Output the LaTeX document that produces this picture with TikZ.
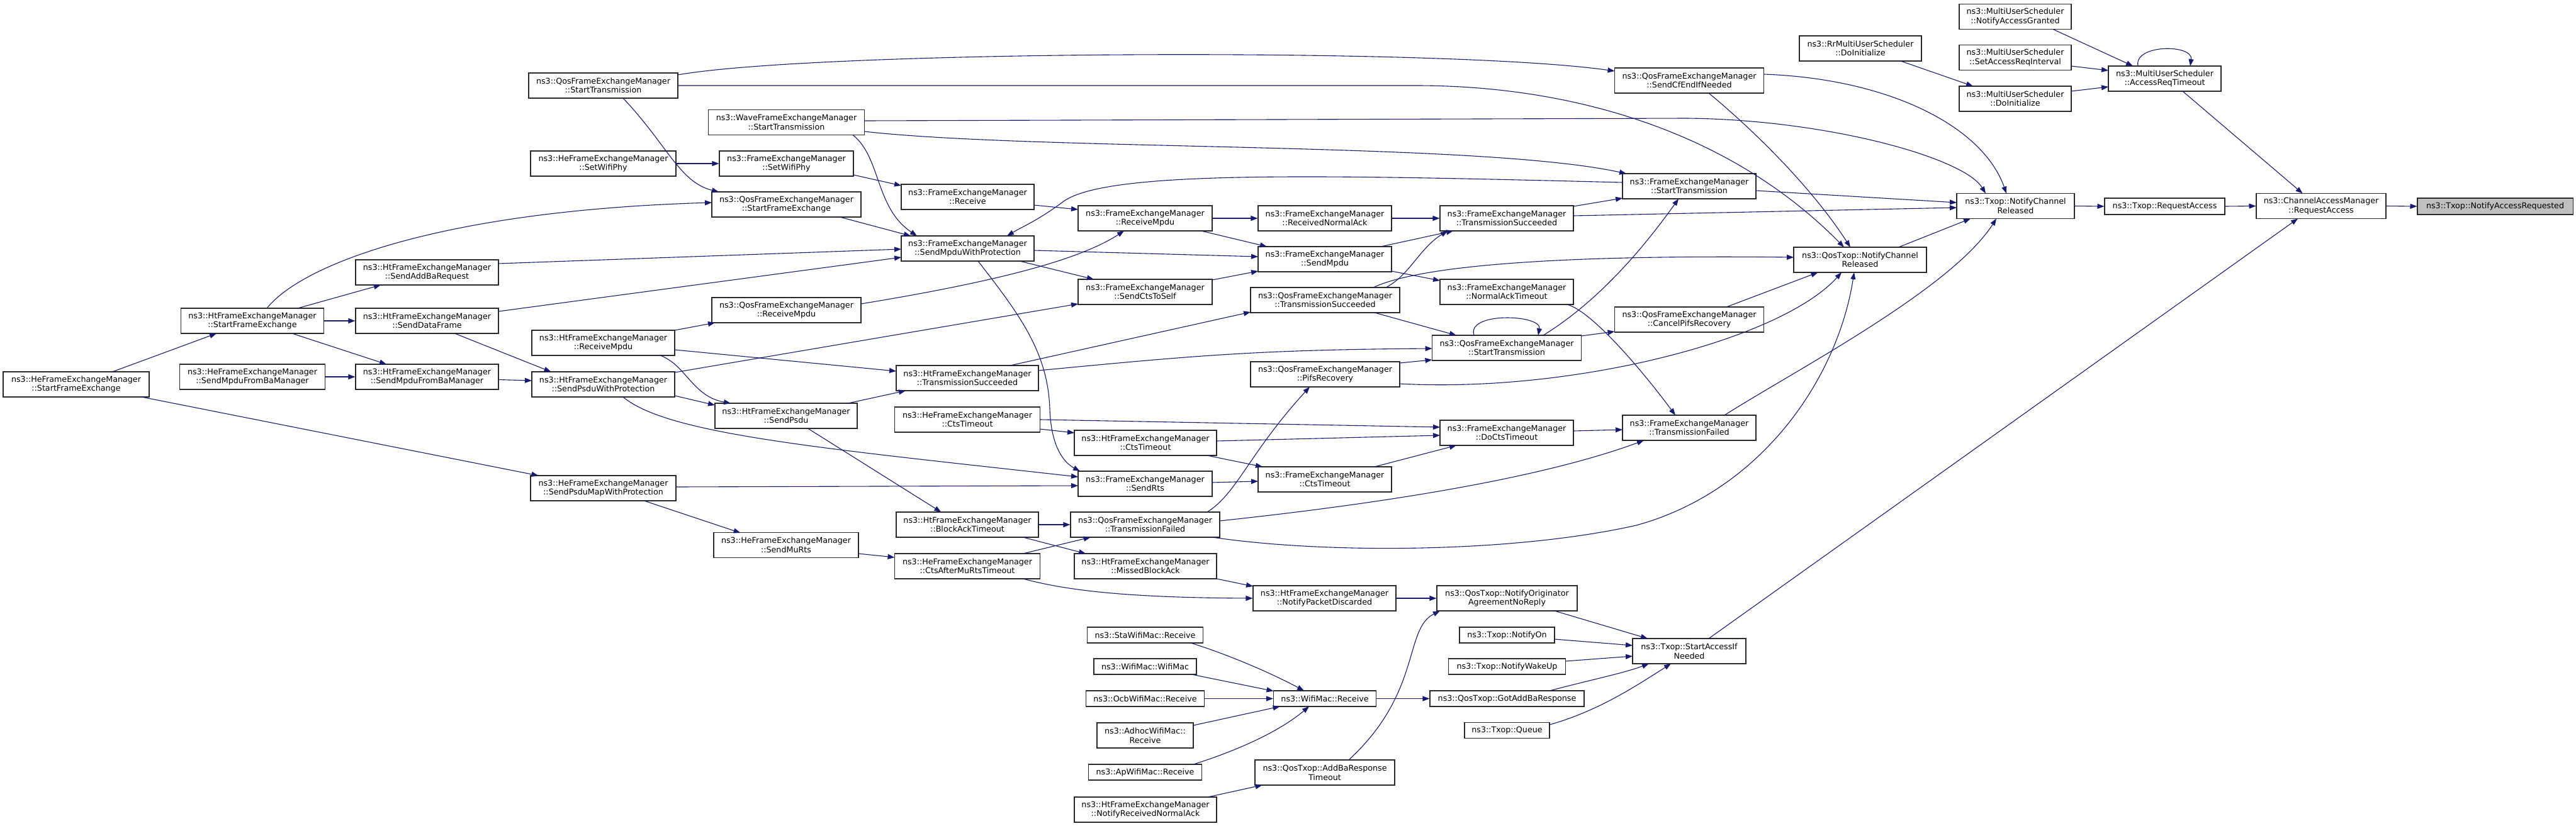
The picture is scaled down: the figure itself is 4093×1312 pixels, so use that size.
\documentclass[tikz,border=0pt]{standalone}
\usepackage{fontspec}
\setmainfont{DejaVu Sans}
\usetikzlibrary{arrows.meta,calc}
\definecolor{mblue}{RGB}{25,25,112}
\definecolor{bord}{RGB}{40,40,40}
\tikzset{
  box/.style={draw=bord, line width=1.1pt, fill=white, inner sep=0pt, minimum height=40pt, align=center, font=\fontsize{12.7}{14.5}\selectfont},
  sbox/.style={box, minimum height=25pt},
  target/.style={sbox, fill=black!25},
  edge/.style={draw=mblue, line width=1.1pt, -{Triangle[length=11pt,width=8pt]}},
}
\begin{document}
\begin{tikzpicture}[x=1pt,y=-1pt]
\useasboundingbox (0,0) rectangle (4093,1312);
% nodes
\node[box,minimum width=232pt] (n1) at (121,611) {ns3::HeFrameExchangeManager\\::StartFrameExchange};
\node[box,minimum width=227pt] (n2) at (401,510) {ns3::HtFrameExchangeManager\\::StartFrameExchange};
\node[box,minimum width=231pt] (n3) at (401,599) {ns3::HeFrameExchangeManager\\::SendMpduFromBaManager};
\node[box,minimum width=227pt] (n4) at (678.5,510) {ns3::HtFrameExchangeManager\\::SendDataFrame};
\node[box,minimum width=227pt] (n5) at (678.5,599) {ns3::HtFrameExchangeManager\\::SendMpduFromBaManager};
\node[box,minimum width=227pt] (n6) at (678.5,433) {ns3::HtFrameExchangeManager\\::SendAddBaRequest};
\node[box,minimum width=237pt] (n7) at (958.5,136) {ns3::QosFrameExchangeManager\\::StartTransmission};
\node[box,minimum width=248pt] (n8) at (1249.5,194.5) {ns3::WaveFrameExchangeManager\\::StartTransmission};
\node[box,minimum width=231pt] (n9) at (958.5,260) {ns3::HeFrameExchangeManager\\::SetWifiPhy};
\node[box,minimum width=213pt] (n10) at (1249.5,260) {ns3::FrameExchangeManager\\::SetWifiPhy};
\node[box,minimum width=237pt] (n11) at (1249.5,325) {ns3::QosFrameExchangeManager\\::StartFrameExchange};
\node[box,minimum width=237pt] (n12) at (1249.5,493) {ns3::QosFrameExchangeManager\\::ReceiveMpdu};
\node[box,minimum width=227pt] (n13) at (958.5,545) {ns3::HtFrameExchangeManager\\::ReceiveMpdu};
\node[box,minimum width=227pt] (n14) at (958.5,611) {ns3::HtFrameExchangeManager\\::SendPsduWithProtection};
\node[box,minimum width=226pt] (n15) at (1249,661) {ns3::HtFrameExchangeManager\\::SendPsdu};
\node[box,minimum width=231pt] (n16) at (958.5,776) {ns3::HeFrameExchangeManager\\::SendPsduMapWithProtection};
\node[box,minimum width=230pt] (n17) at (1249,866.5) {ns3::HeFrameExchangeManager\\::SendMuRts};
\node[box,minimum width=211pt] (n18) at (1537.5,313) {ns3::FrameExchangeManager\\::Receive};
\node[box,minimum width=211pt] (n19) at (1537.5,395) {ns3::FrameExchangeManager\\::SendMpduWithProtection};
\node[box,minimum width=213pt] (n20) at (1819.5,347) {ns3::FrameExchangeManager\\::ReceiveMpdu};
\node[box,minimum width=212pt] (n21) at (2105,347) {ns3::FrameExchangeManager\\::ReceivedNormalAck};
\node[box,minimum width=212pt] (n22) at (2105,412) {ns3::FrameExchangeManager\\::SendMpdu};
\node[box,minimum width=213pt] (n23) at (1819.5,464) {ns3::FrameExchangeManager\\::SendCtsToSelf};
\node[box,minimum width=237pt] (n24) at (2105.5,477) {ns3::QosFrameExchangeManager\\::TransmissionSucceeded};
\node[box,minimum width=226pt] (n25) at (1537,601) {ns3::HtFrameExchangeManager\\::TransmissionSucceeded};
\node[box,minimum width=237pt] (n26) at (2105.5,595) {ns3::QosFrameExchangeManager\\::PifsRecovery};
\node[box,minimum width=231pt] (n27) at (1537,667) {ns3::HeFrameExchangeManager\\::CtsTimeout};
\node[box,minimum width=226pt] (n28) at (1820,704) {ns3::HtFrameExchangeManager\\::CtsTimeout};
\node[box,minimum width=213pt] (n29) at (1819.5,769) {ns3::FrameExchangeManager\\::SendRts};
\node[box,minimum width=212pt] (n30) at (2105,762) {ns3::FrameExchangeManager\\::CtsTimeout};
\node[box,minimum width=226pt] (n31) at (1537,834) {ns3::HtFrameExchangeManager\\::BlockAckTimeout};
\node[box,minimum width=237pt] (n32) at (1819.5,834) {ns3::QosFrameExchangeManager\\::TransmissionFailed};
\node[box,minimum width=231pt] (n33) at (1537,900) {ns3::HeFrameExchangeManager\\::CtsAfterMuRtsTimeout};
\node[box,minimum width=226pt] (n34) at (1820,900) {ns3::HtFrameExchangeManager\\::MissedBlockAck};
\node[box,minimum width=227pt] (n35) at (2104.5,951) {ns3::HtFrameExchangeManager\\::NotifyPacketDiscarded};
\node[sbox,minimum width=184pt] (n36) at (1819.5,1009.5) {ns3::StaWifiMac::Receive};
\node[sbox,minimum width=163pt] (n37) at (1819.5,1059.5) {ns3::WifiMac::WifiMac};
\node[sbox,minimum width=188pt] (n38) at (1819.5,1110.5) {ns3::OcbWifiMac::Receive};
\node[box,minimum width=153pt] (n39) at (1819.5,1169) {ns3::AdhocWifiMac::\\Receive};
\node[sbox,minimum width=180pt] (n40) at (1819.5,1227.5) {ns3::ApWifiMac::Receive};
\node[box,minimum width=226pt] (n41) at (1820,1287) {ns3::HtFrameExchangeManager\\::NotifyReceivedNormalAck};
\node[sbox,minimum width=163pt] (n42) at (2105,1110.5) {ns3::WifiMac::Receive};
\node[box,minimum width=222pt] (n43) at (2105,1228) {ns3::QosTxop::AddBaResponse\\Timeout};
\node[box,minimum width=223pt] (n44) at (2394.5,951) {ns3::QosTxop::NotifyOriginator\\AgreementNoReply};
\node[sbox,minimum width=151pt] (n45) at (2394.5,1009.5) {ns3::Txop::NotifyOn};
\node[sbox,minimum width=186pt] (n46) at (2394.5,1059.5) {ns3::Txop::NotifyWakeUp};
\node[sbox,minimum width=245pt] (n47) at (2394.5,1110.5) {ns3::QosTxop::GotAddBaResponse};
\node[sbox,minimum width=135pt] (n48) at (2394.5,1161) {ns3::Txop::Queue};
\node[box,minimum width=180pt] (n49) at (2684,1035) {ns3::Txop::StartAccessIf\\Needed};
\node[box,minimum width=212pt] (n50) at (2394,464) {ns3::FrameExchangeManager\\::NormalAckTimeout};
\node[box,minimum width=237pt] (n51) at (2394,553) {ns3::QosFrameExchangeManager\\::StartTransmission};
\node[box,minimum width=237pt] (n52) at (2684,508) {ns3::QosFrameExchangeManager\\::CancelPifsRecovery};
\node[box,minimum width=212pt] (n53) at (2394,688) {ns3::FrameExchangeManager\\::DoCtsTimeout};
\node[box,minimum width=212pt] (n54) at (2684,680) {ns3::FrameExchangeManager\\::TransmissionFailed};
\node[box,minimum width=237pt] (n55) at (2684,128) {ns3::QosFrameExchangeManager\\::SendCfEndIfNeeded};
\node[box,minimum width=212pt] (n56) at (2684,296) {ns3::FrameExchangeManager\\::StartTransmission};
\node[box,minimum width=212pt] (n57) at (2394,347) {ns3::FrameExchangeManager\\::TransmissionSucceeded};
\node[box,minimum width=211pt] (n59) at (2955.5,413) {ns3::QosTxop::NotifyChannel\\Released};
\node[box,minimum width=178pt] (n60) at (3202,26.5) {ns3::MultiUserScheduler\\::NotifyAccessGranted};
\node[box,minimum width=194pt] (n61) at (2956,77) {ns3::RrMultiUserScheduler\\::DoInitialize};
\node[box,minimum width=178pt] (n62) at (3202,91.5) {ns3::MultiUserScheduler\\::SetAccessReqInterval};
\node[box,minimum width=178pt] (n63) at (3202,157) {ns3::MultiUserScheduler\\::DoInitialize};
\node[box,minimum width=179pt] (n64) at (3439.5,125) {ns3::MultiUserScheduler\\::AccessReqTimeout};
\node[box,minimum width=187pt] (n65) at (3202.5,327.5) {ns3::Txop::NotifyChannel\\Released};
\node[sbox,minimum width=191pt,minimum height=26pt] (n66) at (3439.5,328) {ns3::Txop::RequestAccess};
\node[box,minimum width=206pt] (n67) at (3688,327.5) {ns3::ChannelAccessManager\\::RequestAccess};
\node[target,minimum width=247pt,minimum height=26pt] (n68) at (3964.5,328) {ns3::Txop::NotifyAccessRequested};
% edges
\draw[edge] ($(n1.center)+(57.6,-20)$) -- ($(n2.center)+(-57,20)$);
\draw[edge] ($(n1.center)+(104,20)$) -- ($(n16.center)+(-103,-20)$);
\draw[edge] ($(n2.center)+(72,-20)$) -- ($(n6.center)+(-73.5,20)$);
\draw[edge] (n2.east) -- (n4.west);
\draw[edge] ($(n2.center)+(63,20)$) -- ($(n5.center)+(-64.5,-20)$);
\draw[edge] ($(n2.center)+(23,-20)$) .. controls (480,420) and (700,335) .. ($(n11.center)+(-118.5,-3)$);
\draw[edge] (n3.east) -- (n5.west);
\draw[edge] ($(n4.center)+(113.5,-15)$) -- ($(n19.center)+(-105.5,14)$);
\draw[edge] ($(n4.center)+(44,20)$) -- ($(n14.center)+(-83,-20)$);
\draw[edge] ($(n5.center)+(113.5,4.5)$) -- ($(n14.center)+(-113.5,-6)$);
\draw[edge] ($(n6.center)+(113.5,-14)$) -- ($(n19.center)+(-105.5,1)$);
\draw[edge] ($(n7.center)+(118.5,-17)$) .. controls (1300,80) and (2300,75) .. ($(n55.center)+(-118.5,-15)$);
\draw[edge] (n7.east) -- (2250,136) .. controls (2500,136) and (2750,210) .. ($(n59.center)+(-25.5,-20)$);
\draw[edge] ($(n7.center)+(31.5,20)$) .. controls (1060,230) and (1080,290) .. ($(n11.center)+(-107.5,-20)$);
\draw[edge] ($(n8.center)+(124,-2.5)$) -- (2680,188) .. controls (2900,190) and (3120,250) .. ($(n65.center)+(-47.5,-20)$);
\draw[edge] ($(n8.center)+(124,14.5)$) .. controls (1650,240) and (2350,225) .. ($(n56.center)+(-100,-20)$);
\draw[edge] ($(n8.center)+(105.5,20)$) .. controls (1400,250) and (1390,330) .. ($(n19.center)+(-80.5,-20)$);
\draw[edge] (n9.east) -- (n10.west);
\draw[edge] ($(n10.center)+(106.5,18)$) -- ($(n18.center)+(-105.5,-18)$);
\draw[edge] ($(n11.center)+(85,20)$) -- ($(n19.center)+(-90.5,-20)$);
\draw[edge] ($(n12.center)+(118.5,-10)$) .. controls (1600,445) and (1720,410) .. ($(n20.center)+(-33.5,20)$);
\draw[edge] ($(n13.center)+(113.5,-20)$) -- ($(n12.center)+(-113.5,20)$);
\draw[edge] ($(n13.center)+(113.5,11)$) -- ($(n25.center)+(-113,-11)$);
\draw[edge] ($(n13.center)+(90.5,20)$) .. controls (1090,580) and (1100,630) .. ($(n15.center)+(-88,-20)$);
\draw[edge] ($(n14.center)+(113.5,18)$) -- ($(n15.center)+(-113,-17)$);
\draw[edge] ($(n14.center)+(113.5,-19)$) -- ($(n23.center)+(-106.5,19)$);
\draw[edge] ($(n14.center)+(31.5,20)$) .. controls (1060,690) and (1300,712) .. ($(n29.center)+(-106.5,-11)$);
\draw[edge] ($(n15.center)+(98.5,-20)$) -- ($(n25.center)+(-98,20)$);
\draw[edge] ($(n15.center)+(34.6,20)$) -- ($(n31.center)+(-41.6,-20)$);
\draw[edge] ($(n16.center)+(115.5,-2)$) -- ($(n29.center)+(-106.5,3)$);
\draw[edge] ($(n16.center)+(65,20)$) -- ($(n17.center)+(-72.5,-19.5)$);
\draw[edge] ($(n17.center)+(115,13.5)$) -- ($(n33.center)+(-115.5,-14)$);
\draw[edge] ($(n18.center)+(105.5,13)$) -- ($(n20.center)+(-106.5,-14)$);
\draw[edge] ($(n19.center)+(105.5,3)$) -- ($(n22.center)+(-106,-4)$);
\draw[edge] ($(n19.center)+(82.5,20)$) -- ($(n23.center)+(-81.5,-20)$);
\draw[edge] ($(n19.center)+(16.5,20)$) .. controls (1620,500) and (1665,560) .. (1668,650) .. controls (1670,710) and (1690,735) .. ($(n29.center)+(-103.5,-20)$);
\draw[edge] (n20.east) -- (n21.west);
\draw[edge] ($(n20.center)+(89,20)$) -- ($(n22.center)+(-92,-20)$);
\draw[edge] (n21.east) -- (n57.west);
\draw[edge] ($(n22.center)+(89,-20)$) -- ($(n57.center)+(-85,20)$);
\draw[edge] ($(n22.center)+(106,19)$) -- ($(n50.center)+(-106,-18)$);
\draw[edge] ($(n23.center)+(106.5,-19)$) -- ($(n22.center)+(-106,19)$);
\draw[edge] ($(n24.center)+(78.5,20)$) -- ($(n51.center)+(-80,-20)$);
\draw[edge] ($(n24.center)+(96.5,-20)$) .. controls (2240,437) and (2255,395) .. ($(n57.center)+(-94,20)$);
\draw[edge] ($(n24.center)+(76.5,-20)$) .. controls (2260,420) and (2500,405) .. ($(n59.center)+(-105.5,-4)$);
\draw[edge] ($(n25.center)+(68,-20)$) -- ($(n24.center)+(-118.5,19)$);
\draw[edge] ($(n25.center)+(113,-12)$) .. controls (1900,565) and (2000,556) .. ($(n51.center)+(-118.5,1)$);
\draw[edge] ($(n26.center)+(118.5,-18)$) -- ($(n51.center)+(-118.5,19)$);
\draw[edge] ($(n26.center)+(118.5,15)$) .. controls (2500,625) and (2830,540) .. ($(n59.center)+(-29.5,20)$);
\draw[edge] (n27.east) -- ($(n53.center)+(-106,-9)$);
\draw[edge] ($(n27.center)+(115.5,15)$) -- ($(n28.center)+(-113,-16)$);
\draw[edge] ($(n28.center)+(113,-3)$) -- ($(n53.center)+(-106,4)$);
\draw[edge] ($(n28.center)+(98,20)$) -- ($(n30.center)+(-99,-20)$);
\draw[edge] ($(n29.center)+(106.5,-2)$) -- ($(n30.center)+(-106,3)$);
\draw[edge] ($(n30.center)+(79,-20)$) -- ($(n53.center)+(-80,20)$);
\draw[edge] (n31.east) -- (n32.west);
\draw[edge] ($(n31.center)+(88.5,20)$) -- ($(n34.center)+(-95,-20)$);
\draw[edge] ($(n32.center)+(98.5,-20)$) .. controls (1965,785) and (1985,720) .. ($(n26.center)+(-24.5,20)$);
\draw[edge] ($(n32.center)+(118.5,-6)$) .. controls (2200,800) and (2450,760) .. ($(n54.center)+(-72,20)$);
\draw[edge] ($(n32.center)+(107,20)$) .. controls (2100,880) and (2400,880) .. (2600,835) .. controls (2800,780) and (2920,600) .. ($(n59.center)+(-9.5,20)$);
\draw[edge] ($(n33.center)+(88.5,-20)$) -- ($(n32.center)+(-86.8,20)$);
\draw[edge] ($(n33.center)+(88.5,20)$) .. controls (1700,940) and (1800,950) .. (n35.west);
\draw[edge] ($(n34.center)+(113,20)$) -- ($(n35.center)+(-113.5,-19)$);
\draw[edge] (n35.east) -- (n44.west);
\draw[edge] ($(n36.center)+(72.5,12.5)$) .. controls (1950,1040) and (2020,1070) .. ($(n42.center)+(-33,-12.5)$);
\draw[edge] ($(n37.center)+(73.5,12.5)$) -- ($(n42.center)+(-81.5,-12)$);
\draw[edge] (n38.east) -- (n42.west);
\draw[edge] ($(n39.center)+(76.5,-16)$) -- ($(n42.center)+(-71.4,12.5)$);
\draw[edge] ($(n40.center)+(76.5,-12.5)$) .. controls (1960,1195) and (2030,1165) .. ($(n42.center)+(-25,12.5)$);
\draw[edge] ($(n41.center)+(99,-20)$) -- ($(n43.center)+(-99.4,20)$);
\draw[edge] (n42.east) -- (n47.west);
\draw[edge] ($(n43.center)+(38,-20)$) .. controls (2260,1100) and (2230,1000) .. ($(n44.center)+(-106.5,20)$);
\draw[edge] ($(n44.center)+(75.5,20)$) -- ($(n49.center)+(-66,-20)$);
\draw[edge] ($(n45.center)+(75.5,6.5)$) -- ($(n49.center)+(-90,-9)$);
\draw[edge] ($(n46.center)+(93,-8.5)$) -- ($(n49.center)+(-90,8)$);
\draw[edge] ($(n47.center)+(67.5,-12.5)$) .. controls (2530,1080) and (2580,1070) .. ($(n49.center)+(-64,20)$);
\draw[edge] ($(n48.center)+(67.5,-9)$) .. controls (2540,1130) and (2600,1090) .. ($(n49.center)+(-29,20)$);
\draw[edge] ($(n49.center)+(31,-20)$) -- ($(n67.center)+(-37,20)$);
\draw[edge] ($(n50.center)+(96,20)$) .. controls (2530,495) and (2610,590) .. ($(n54.center)+(-22,-20)$);
\draw[edge] ($(n51.center)+(-52,-20)$) .. controls (2330,495) and (2450,500) .. ($(n51.center)+(50,-20)$);
\draw[edge] ($(n51.center)+(118.5,-19)$) -- ($(n52.center)+(-118.5,19)$);
\draw[edge] ($(n51.center)+(58,-20)$) .. controls (2530,485) and (2600,410) .. ($(n56.center)+(-17,20)$);
\draw[edge] ($(n52.center)+(59,-20)$) -- ($(n59.center)+(-67,20)$);
\draw[edge] ($(n53.center)+(106,-3)$) -- ($(n54.center)+(-106,3)$);
\draw[edge] ($(n54.center)+(56,-20)$) .. controls (2850,590) and (3100,460) .. ($(n65.center)+(-30.5,20)$);
\draw[edge] ($(n55.center)+(118.5,-10)$) .. controls (3000,125) and (3150,200) .. ($(n65.center)+(-14.5,-20)$);
\draw[edge] ($(n55.center)+(31,20)$) .. controls (2790,210) and (2880,300) .. ($(n59.center)+(-15.5,-20)$);
\draw[edge] ($(n56.center)+(-106,-6)$) .. controls (2100,278) and (1760,270) .. (1690,320) .. controls (1650,350) and (1625,360) .. ($(n19.center)+(62.5,-20)$);
\draw[edge] ($(n56.center)+(106,7)$) -- ($(n65.center)+(-93.5,-5.5)$);
\draw[edge] ($(n57.center)+(106,-19)$) -- ($(n56.center)+(-106,19)$);
\draw[edge] ($(n57.center)+(106,-4)$) -- ($(n65.center)+(-93.5,2.5)$);
\draw[edge] ($(n59.center)+(61,-20)$) -- ($(n65.center)+(-71.5,20)$);
\draw[edge] ($(n60.center)+(60,20)$) -- ($(n64.center)+(-50.5,-20)$);
\draw[edge] ($(n61.center)+(64,20)$) -- ($(n63.center)+(-67,-20)$);
\draw[edge] ($(n62.center)+(89,13.5)$) -- ($(n64.center)+(-89.5,-13)$);
\draw[edge] ($(n63.center)+(89,-12)$) -- ($(n64.center)+(-89.5,13)$);
\draw[edge] ($(n64.center)+(-42.5,-20)$) .. controls (3390,70) and (3485,70) .. ($(n64.center)+(40.5,-20)$);
\draw[edge] ($(n64.center)+(28.5,20)$) -- ($(n67.center)+(-29.4,-20)$);
\draw[edge] (n65.east) -- (n66.west);
\draw[edge] (n66.east) -- (n67.west);
\draw[edge] (n67.east) -- (n68.west);
\end{tikzpicture}
\end{document}
